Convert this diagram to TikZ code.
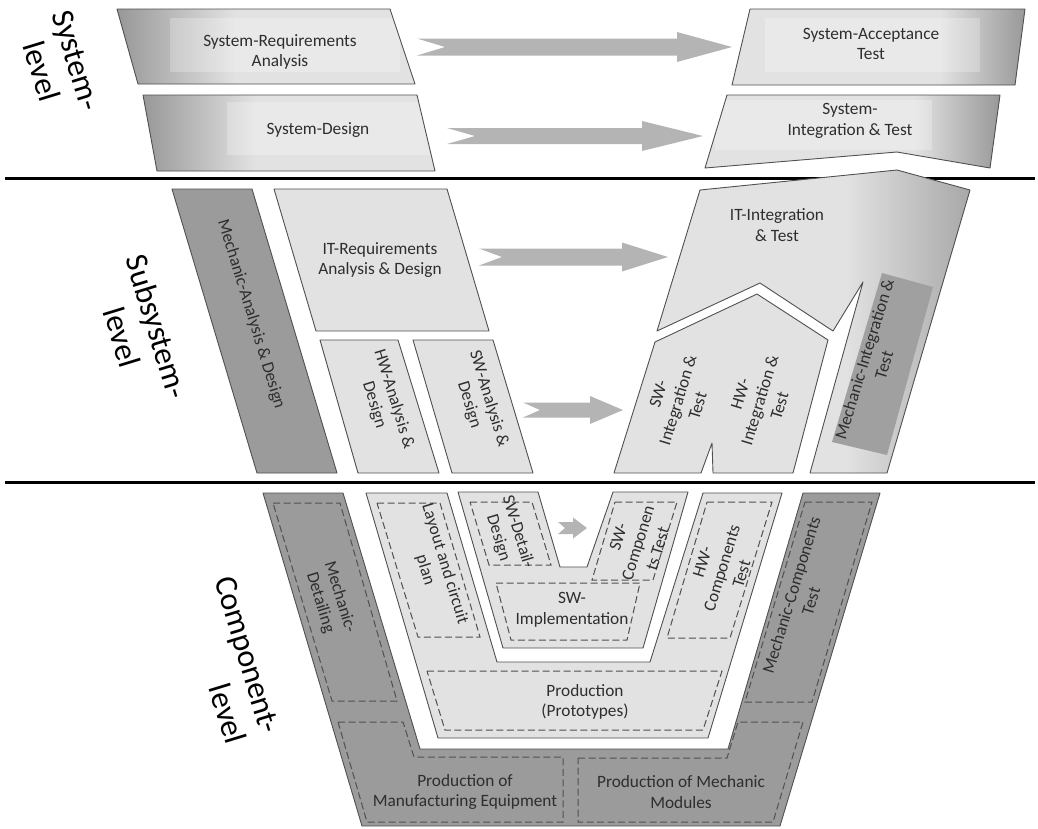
\documentclass[tikz,border=0pt]{standalone}
\usepackage{fontspec}
\setmainfont{Carlito}
\definecolor{lightg}{HTML}{E2E2E2}
\definecolor{darkg}{HTML}{9B9B9B}
\definecolor{edgeg}{HTML}{505050}
\definecolor{dashg}{HTML}{505050}
\definecolor{arrowg}{HTML}{B4B4B4}
\definecolor{txtg}{HTML}{2E2E2E}
\definecolor{shadeg}{HTML}{969696}
\definecolor{bandg}{HTML}{A6A6A6}
\definecolor{mechg}{HTML}{A0A0A0}
\newcommand{\blkarrow}[7]{%
  \fill[arrowg] ({#1},{#3-#4}) -- ({#2-#6},{#3-#4}) -- ({#2-#6},{#3-#5}) -- ({#2},{#3})
    -- ({#2-#6},{#3+#5}) -- ({#2-#6},{#3+#4}) -- ({#1},{#3+#4}) -- ({#1+#7},{#3}) -- cycle;}
\begin{document}
\begin{tikzpicture}[x=1pt,y=-1pt,
  lightbox/.style={fill=lightg, draw=edgeg, line width=0.9pt, line join=round},
  darkbox/.style={fill=darkg, draw=edgeg, line width=0.9pt, line join=round},
  outline/.style={draw=edgeg, line width=0.9pt, line join=round},
  dashbox/.style={draw=dashg, line width=1pt, dash pattern=on 7pt off 3.5pt},
  lbl/.style={text=txtg, font=\fontsize{17.3}{20.5}\selectfont, align=center, inner sep=0pt},
  lvl/.style={text=black, font=\fontsize{32}{37}\selectfont, align=center, inner sep=0pt},
  sepline/.style={draw=black, line width=3pt}]
\useasboundingbox (0,0) rectangle (1038,828);

% level separators
\draw[sepline] (5,178) -- (1035,178);
\draw[sepline] (5,482) -- (1035,482);

% level labels
\node[lvl, rotate=-73] (syslvl) at (59,66) {System-\\level};
\node[lvl, rotate=-73] (subsyslvl) at (140,332) {Subsystem-\\level};
\node[lvl, rotate=-73, align=right] (complvl) at (230,660) {Component-\\level};

% ===== System level =====
% System-Requirements Analysis
\fill[lightg] (117,9) -- (390,9) -- (415,84) -- (138,84) -- cycle;
\begin{scope}
  \clip (117,9) -- (390,9) -- (415,84) -- (138,84) -- cycle;
  \shade[left color=shadeg, right color=lightg] (115,5) rectangle (235,90);
  \fill[white, opacity=0.25] (170,18) rectangle (400,72);
\end{scope}
\draw[outline] (117,9) -- (390,9) -- (415,84) -- (138,84) -- cycle;
\node[lbl] (sysreq) at (280,52) {System-Requirements\\Analysis};

% System-Design
\fill[lightg] (143,95) -- (417,95) -- (435,171) -- (157,171) -- cycle;
\begin{scope}
  \clip (143,95) -- (417,95) -- (435,171) -- (157,171) -- cycle;
  \shade[left color=shadeg, right color=lightg] (140,90) rectangle (255,175);
  \fill[white, opacity=0.25] (227,102) rectangle (430,155);
\end{scope}
\draw[outline] (143,95) -- (417,95) -- (435,171) -- (157,171) -- cycle;
\node[lbl] (sysdes) at (318,130) {System-Design};

% System-Acceptance Test
\fill[lightg] (750,9) -- (1025,9) -- (1015,85) -- (732,85) -- cycle;
\begin{scope}
  \clip (750,9) -- (1025,9) -- (1015,85) -- (732,85) -- cycle;
  \shade[left color=lightg, right color=shadeg] (940,5) rectangle (1028,90);
  \fill[white, opacity=0.25] (765,18) rectangle (980,72);
\end{scope}
\draw[outline] (750,9) -- (1025,9) -- (1015,85) -- (732,85) -- cycle;
\node[lbl] (sysacc) at (871,44) {System-Acceptance\\Test};

% System-Integration & Test
\fill[lightg] (727,95) -- (1000,95) -- (990,168) -- (897,152) -- (705,168) -- cycle;
\begin{scope}
  \clip (727,95) -- (1000,95) -- (990,168) -- (897,152) -- (705,168) -- cycle;
  \shade[left color=lightg, right color=shadeg] (915,90) rectangle (1003,172);
  \fill[white, opacity=0.25] (715,100) rectangle (932,150);
\end{scope}
\draw[outline] (727,95) -- (1000,95) -- (990,168) -- (897,152) -- (705,168) -- cycle;
\node[lbl] (sysint) at (850,121) {System-\\Integration \& Test};

% system arrows
\blkarrow{417}{732}{47}{8.5}{15}{55}{28}
\blkarrow{447}{703}{136}{8}{15}{61}{28}

% ===== Subsystem level =====
\path[darkbox] (172,189) -- (252,189) -- (337,473) -- (257,473) -- cycle;
\node[lbl, rotate=-73] (mechana) at (251,314) {Mechanic-Analysis \& Design};

\path[lightbox] (274,189) -- (447,189) -- (489,331) -- (316,331) -- cycle;
\node[lbl] (itreq) at (380,260) {IT-Requirements\\Analysis \& Design};

\path[lightbox] (320,340) -- (398,340) -- (439,473) -- (358,473) -- cycle;
\node[lbl, rotate=-73] (hwana) at (384,402) {HW-Analysis \&\\Design};

\path[lightbox] (413,340) -- (493,340) -- (533,473) -- (452,473) -- cycle;
\node[lbl, rotate=-73] (swana) at (479,402) {SW-Analysis \&\\Design};

% IT-Integration & Test with mechanic band
\fill[lightg] (700,190) -- (897,170) -- (970,190) -- (887,473) -- (810,473) -- (863,282)
  -- (833,331) -- (760,283) -- (657,331) -- cycle;
\begin{scope}
  \clip (700,190) -- (897,170) -- (970,190) -- (887,473) -- (810,473) -- (863,282)
  -- (833,331) -- (760,283) -- (657,331) -- cycle;
  \shade[left color=lightg, right color=bandg] (845,165) rectangle (975,480);
\end{scope}
\draw[outline] (700,190) -- (897,170) -- (970,190) -- (887,473) -- (810,473) -- (863,282)
  -- (833,331) -- (760,283) -- (657,331) -- cycle;
\fill[mechg] (882,273) -- (933,287) -- (887,455) -- (832,442) -- cycle;
\node[lbl] (itint) at (777,225) {IT-Integration\\\& Test};
\node[lbl, rotate=73] (mechint) at (874,362) {Mechanic-Integration \&\\Test};

% SW / HW integration
\path[lightbox] (614,473) -- (655,342) -- (757,294) -- (828,340) -- (793,473) -- (713,473)
  -- (712,443) -- (701,473) -- cycle;
\node[lbl, rotate=73] (swint) at (678,400) {SW-\\Integration \&\\Test};
\node[lbl, rotate=73] (hwint) at (760,400) {HW-\\Integration \&\\Test};

% subsystem arrows
\blkarrow{479}{668}{257}{8.5}{14.5}{46}{23}
\blkarrow{523}{623}{410}{7.5}{14}{33}{17}

% ===== Component level =====
% dark outer U
\path[darkbox] (263,493) -- (343,493) -- (420,749) -- (728,749) -- (803,493) -- (880,493)
  -- (780,826) -- (362,826) -- cycle;
\draw[dashbox] (273,503) -- (340,503) -- (397,701) -- (332,701) -- cycle;
\node[lbl, rotate=-73] (mechdet) at (330,600) {Mechanic-\\Detailing};
\draw[dashbox] (338,722) -- (403,722) -- (414,757) -- (563,757) -- (563,822) -- (367,822) -- cycle;
\node[lbl] (prodman) at (465,792) {Production of\\Manufacturing Equipment};
\draw[dashbox] (578,758) -- (727,758) -- (738,722) -- (803,722) -- (773,822) -- (578,822) -- cycle;
\node[lbl] (prodmod) at (681,792) {Production of Mechanic\\Modules};
\draw[dashbox] (805,502) -- (872,502) -- (812,702) -- (745,702) -- cycle;
\node[lbl, rotate=73] (mechcomp) at (801,598) {Mechanic-Components\\Test};

% light U
\path[lightbox] (366,493) -- (447,493) -- (497,662) -- (650,662) -- (703,493) -- (782,493)
  -- (708,738) -- (438,738) -- cycle;
\draw[dashbox] (377,503) -- (440,503) -- (480,637) -- (418,637) -- cycle;
\node[lbl, rotate=-73] (layout) at (435,567) {Layout and circuit\\plan};
\draw[dashbox] (427,671) -- (722,671) -- (703,730) -- (445,730) -- cycle;
\node[lbl] (prodproto) at (585,702) {Production\\(Prototypes)};
\draw[dashbox] (707,502) -- (772,502) -- (730,638) -- (667,638) -- cycle;
\node[lbl, rotate=73] (hwcomp) at (722,568) {HW-\\Components\\Test};

% SW V-shape
\path[lightbox] (458,492) -- (538,492) -- (560,567) -- (587,567) -- (613,492) -- (688,492)
  -- (643,648) -- (503,648) -- cycle;
\draw[dashbox] (470,502) -- (532,502) -- (551,565) -- (489,565) -- cycle;
\node[lbl, rotate=-73] (swdet) at (508,535) {SW-Detail-\\Design};
\draw[dashbox] (496,583) -- (640,583) -- (627,640) -- (511,640) -- cycle;
\node[lbl] (swimpl) at (572,610) {SW-\\Implementation};
\draw[dashbox] (615,502) -- (677,502) -- (653,580) -- (592,580) -- cycle;
\node[lbl, rotate=73] (swcomp) at (638,543) {SW-\\Componen\\ts Test};

\blkarrow{558}{587}{528}{6}{10.5}{14}{7}
\end{tikzpicture}
\end{document}
